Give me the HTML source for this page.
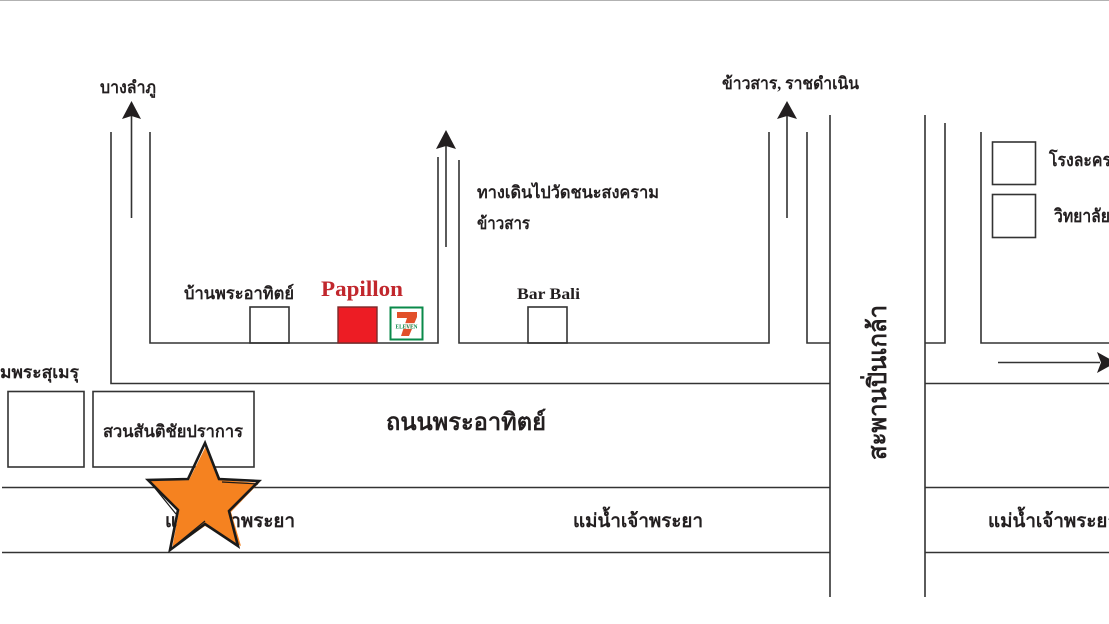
<!DOCTYPE html>
<html><head><meta charset="utf-8"><style>
html,body{margin:0;padding:0;background:#fff}
svg{display:block}
text{font-family:"Liberation Serif","WenQuanYi Zen Hei","Noto Serif CJK SC",serif;fill:#231f20}
</style></head><body>
<svg width="1109" height="624" viewBox="0 0 1109 624" xmlns="http://www.w3.org/2000/svg">
<rect width="1109" height="624" fill="#fff"/>
<line x1="0" y1="0" x2="1109" y2="0" stroke="#999" stroke-width="1.5"/>
<g fill="none" stroke="#333" stroke-width="1.6">
<path d="M111 132V383.5H830"/>
<path d="M150 132V343H438V157"/>
<path d="M459 160V343H769V132"/>
<path d="M807 132V343H830"/>
<path d="M830 115V597M925 115V597"/>
<path d="M945 123V343H925"/>
<path d="M981 132V343H1109"/>
<path d="M925 383.5H1109"/>
<path d="M2 487.500H830M925 487.500H1109M2 552.500H830M925 552.500H1109"/>
<rect x="250" y="307" width="39" height="36"/>
<rect x="528" y="307" width="39" height="36"/>
<rect x="8" y="391.500" width="76" height="75.500"/>
<rect x="93" y="391.500" width="161" height="75.500"/>
<rect x="992.500" y="142" width="43" height="42.500"/>
<rect x="992.500" y="194.500" width="43" height="43"/>
<path d="M131.500 218V115M446 247V145M787 218V115M998 362.500H1100"/>
</g>
<g fill="#231f20">
<path d="M131.500 101L141 119L131.500 116L122 119Z"/>
<path d="M446 130L456 149L446 146L436 149Z"/>
<path d="M787 101L797 119L787 116L777 119Z"/>
<path d="M1097 352L1116 362.500L1097 373L1101 362.500Z"/>
</g>
<rect x="338" y="307" width="39" height="36" fill="#ed1c24" stroke="#7a2a2a" stroke-width="1.400"/>
<rect x="390.500" y="307.500" width="32" height="32" fill="#fff" stroke="#0a8a4a" stroke-width="2"/>
<path d="M397 312H417V317L409 336H401L407 318H397Z" fill="#e2502a"/>
<rect x="393" y="323" width="27" height="6" fill="#fff" opacity=".85"/>
<text x="406.500" y="328.500" font-size="6.500" font-weight="bold" text-anchor="middle" style="fill:#0a8a4a" textLength="22" lengthAdjust="spacingAndGlyphs">ELEVEN</text>

<text x="100" y="93" font-size="17" font-weight="bold" textLength="56" lengthAdjust="spacingAndGlyphs">บางลำภู</text>
<text x="722" y="89" font-size="17" font-weight="bold" textLength="137" lengthAdjust="spacingAndGlyphs">ข้าวสาร, ราชดำเนิน</text>
<text x="477" y="198" font-size="17" font-weight="bold" textLength="182" lengthAdjust="spacingAndGlyphs">ทางเดินไปวัดชนะสงคราม</text>
<text x="477" y="229" font-size="17" font-weight="bold" textLength="53" lengthAdjust="spacingAndGlyphs">ข้าวสาร</text>
<text x="184" y="299" font-size="17" font-weight="bold" textLength="110" lengthAdjust="spacingAndGlyphs">บ้านพระอาทิตย์</text>
<text x="321" y="296" font-size="22" font-weight="bold" style="fill:#c1272d" textLength="82" lengthAdjust="spacingAndGlyphs">Papillon</text>
<text x="517" y="299" font-size="16" font-weight="bold" textLength="63" lengthAdjust="spacingAndGlyphs">Bar Bali</text>
<text x="0" y="378" font-size="17" font-weight="bold" textLength="79" lengthAdjust="spacingAndGlyphs">มพระสุเมรุ</text>
<text x="103" y="437" font-size="17" font-weight="bold" textLength="140" lengthAdjust="spacingAndGlyphs">สวนสันติชัยปราการ</text>
<text x="386" y="430" font-size="24" font-weight="bold" textLength="160" lengthAdjust="spacingAndGlyphs">ถนนพระอาทิตย์</text>
<text x="165" y="527" font-size="19" font-weight="bold" textLength="130" lengthAdjust="spacingAndGlyphs">แม่น้ำเจ้าพระยา</text>
<text x="573" y="527" font-size="19" font-weight="bold" textLength="130" lengthAdjust="spacingAndGlyphs">แม่น้ำเจ้าพระยา</text>
<text x="988" y="527" font-size="19" font-weight="bold" textLength="130" lengthAdjust="spacingAndGlyphs">แม่น้ำเจ้าพระยา</text>
<text x="1049" y="166" font-size="18" font-weight="bold" textLength="62" lengthAdjust="spacingAndGlyphs">โรงละคร</text>
<text x="1054" y="222" font-size="18" font-weight="bold" textLength="56" lengthAdjust="spacingAndGlyphs">วิทยาลัย</text>
<text transform="translate(886 460) rotate(-90)" font-size="25" font-weight="bold" textLength="155" lengthAdjust="spacingAndGlyphs">สะพานปิ่นเกล้า</text>

<path d="M206 446L221 480L259 483L231 512L241 546L205 526L172 549L179 511L150 481L189 480Z" fill="#f58220"/>
<path d="M205 443L219 479L259 481L229 511L238 546L205 524L170 550L178 510L148 480L188 479Z" fill="none" stroke="#1a1a1a" stroke-width="2.600" stroke-linejoin="miter"/>
<path d="M150 482L176 514M172 548L205 521M222 482L258 484" fill="none" stroke="#1a1a1a" stroke-width="1.200"/>
</svg>
</body></html>
